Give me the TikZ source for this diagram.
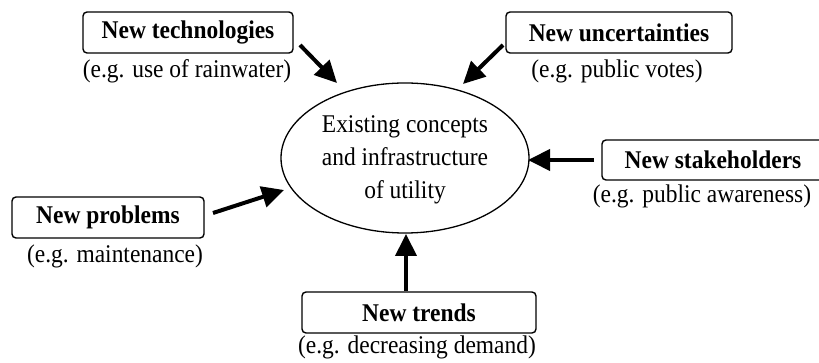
\documentclass[tikz,border=0pt]{standalone}
\usepackage{fontspec}
\setmainfont[FakeStretch=0.92]{Liberation Serif}
\usetikzlibrary{arrows.meta,shapes.geometric}
\begin{document}
\begin{tikzpicture}[x=1pt,y=-1pt,
  box/.style={draw,line width=1.4pt,rounded corners=4pt,fill=white,inner sep=0pt,minimum height=41pt,font=\fontsize{25.5}{30}\selectfont\bfseries},
  sub/.style={inner sep=0pt,font=\fontsize{25.5}{30}\selectfont},
  push/.style={line width=4pt,-{Triangle[length=22pt,width=21pt]}}]
\useasboundingbox (0,0) rectangle (819,363);
\clip (0,0) rectangle (819,363);
\node[draw,ellipse,line width=1.3pt,minimum width=248pt,minimum height=150pt,inner sep=0pt] (ell) at (405,158) {};
\node[align=center,inner sep=0pt,font=\fontsize{25.5}{33}\selectfont] (elltext) at (405,160) {Existing concepts\\and infrastructure\\of utility};
\node[box,minimum width=210pt] (tech) at (188,32.5) {New technologies};
\node[sub] (techsub) at (187,71) {(e.g. use of rainwater)};
\node[box,minimum width=226pt] (unc) at (619,32.5) {New uncertainties};
\node[sub] (uncsub) at (617,71) {(e.g. public votes)};
\node[box,minimum width=222pt,minimum height=40pt] (stake) at (713,160) {New stakeholders};
\node[sub] (stakesub) at (702,196) {(e.g. public awareness)};
\node[box,minimum width=192pt] (prob) at (108,217.5) {New problems};
\node[sub] (probsub) at (115,256) {(e.g. maintenance)};
\node[box,minimum width=234pt] (trend) at (419,312.5) {New trends};
\node[sub] (trendsub) at (417,347) {(e.g. decreasing demand)};
\coordinate (techT) at (300,45);
\coordinate (techH) at (337,83);
\coordinate (uncT) at (503,45);
\coordinate (uncH) at (463,84);
\coordinate (stakeT) at (594,160);
\coordinate (stakeH) at (528,160);
\coordinate (probT) at (213,213);
\coordinate (probH) at (284,190);
\coordinate (trendT) at (406,291);
\coordinate (trendH) at (406,234);
\draw[push] (techT) -- (techH);
\draw[push] (uncT) -- (uncH);
\draw[push] (stakeT) -- (stakeH);
\draw[push] (probT) -- (probH);
\draw[push] (trendT) -- (trendH);
\end{tikzpicture}
\end{document}
